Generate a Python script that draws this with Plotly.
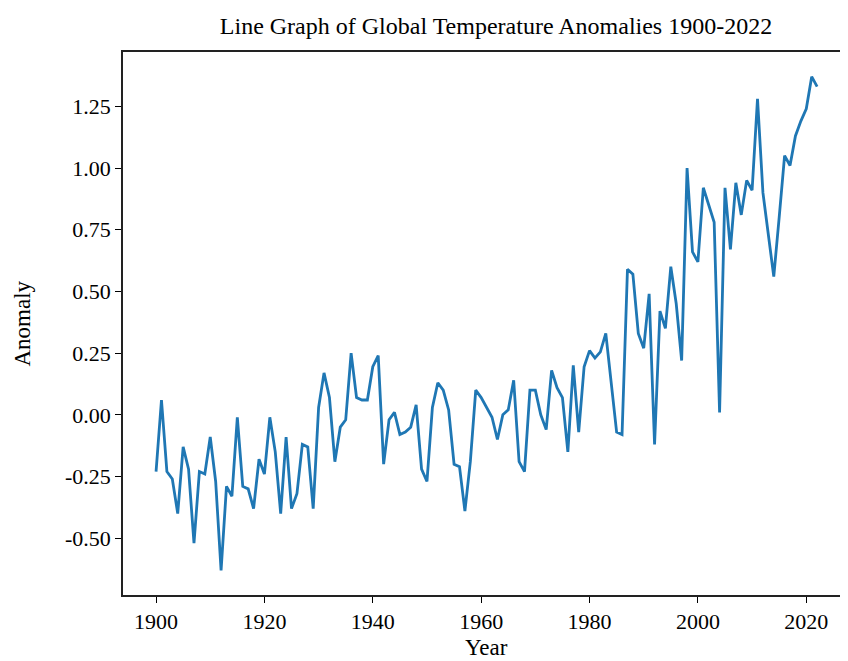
import plotly.graph_objects as go

years = list(range(1900, 2023))
anomaly = [
    -0.23, 0.06, -0.23, -0.26, -0.40, -0.13, -0.22, -0.52, -0.23, -0.24,  # 1900-1909
    -0.09, -0.27, -0.63, -0.29, -0.33, -0.01, -0.29, -0.30, -0.38, -0.18,  # 1910-1919
    -0.24, -0.01, -0.15, -0.40, -0.09, -0.38, -0.32, -0.12, -0.13, -0.38,  # 1920-1929
    0.03, 0.17, 0.07, -0.19, -0.05, -0.02, 0.25, 0.07, 0.06, 0.06,        # 1930-1939
    0.195, 0.24, -0.20, -0.02, 0.01, -0.08, -0.07, -0.05, 0.04, -0.22,    # 1940-1949
    -0.27, 0.03, 0.13, 0.10, 0.02, -0.20, -0.21, -0.39, -0.19, 0.10,      # 1950-1959
    0.07, 0.03, -0.01, -0.10, 0.00, 0.02, 0.14, -0.19, -0.23, 0.10,       # 1960-1969
    0.10, 0.00, -0.06, 0.18, 0.11, 0.07, -0.15, 0.20, -0.07, 0.195,       # 1970-1979
    0.26, 0.23, 0.255, 0.33, 0.13, -0.07, -0.08, 0.59, 0.57, 0.33,        # 1980-1989
    0.27, 0.49, -0.12, 0.42, 0.35, 0.60, 0.45, 0.22, 1.00, 0.66,          # 1990-1999
    0.62, 0.92, 0.85, 0.78, 0.01, 0.92, 0.67, 0.94, 0.81, 0.95,           # 2000-2009
    0.91, 1.28, 0.90, 0.73, 0.56, 0.80, 1.05, 1.01, 1.13, 1.19,           # 2010-2019
    1.24, 1.37, 1.33,                                                     # 2020-2022
]

x_ticks = [1900, 1920, 1940, 1960, 1980, 2000, 2020]
y_ticks = [-0.50, -0.25, 0.00, 0.25, 0.50, 0.75, 1.00, 1.25]
y_tick_labels = ["-0.50", "-0.25", "0.00", "0.25", "0.50", "0.75", "1.00", "1.25"]

FONT = "Liberation Serif, Times New Roman, serif"
OFF = 8                      # page body margin in the browser
W, H = 848 - OFF, 661 - OFF  # figure fills the rest of the window
L, R, T, B = 123 - OFF, 0, 52 - OFF, 661 - 595

fig = go.Figure()
fig.add_trace(go.Scatter(
    x=years, y=anomaly, mode="lines",
    line=dict(color="#1f77b4", width=2.8),
    showlegend=False,
))

fig.update_layout(
    width=W, height=H,
    margin=dict(l=L, r=R, t=T, b=B, autoexpand=False),
    paper_bgcolor="white", plot_bgcolor="white",
    font=dict(family=FONT, size=22, color="black"),
    title=dict(
        text="Line Graph of Global Temperature Anomalies 1900-2022",
        x=(496 - OFF) / W, xref="container", xanchor="center",
        y=1 - (26 - OFF) / H, yref="container", yanchor="middle",
        font=dict(family=FONT, size=24, color="black"),
    ),
    annotations=[
        dict(text="Year", x=(487 - 123) / (W - L - R), y=0,
             xref="paper", yref="paper", yshift=-(647 - 595),
             showarrow=False, xanchor="center", yanchor="middle",
             font=dict(family=FONT, size=23, color="black")),
        dict(text="Anomaly", x=0, y=0.5, xref="paper", yref="paper",
             xshift=22 - 123, showarrow=False, textangle=-90,
             xanchor="center", yanchor="middle",
             font=dict(family=FONT, size=23, color="black")),
    ],
)

fig.update_xaxes(
    range=[1893.9, 2027.7], automargin=False,
    tickmode="array", tickvals=x_ticks,
    ticks="outside", ticklen=6, tickwidth=1.3, tickcolor="black",
    showline=True, linecolor="#222", linewidth=1.5, mirror=True,
    showgrid=False, zeroline=False,
    tickfont=dict(family=FONT, size=22, color="black"),
)
fig.update_yaxes(
    range=[-0.73, 1.47], automargin=False,
    tickmode="array", tickvals=y_ticks, ticktext=y_tick_labels,
    ticks="outside", ticklen=6, tickwidth=1.3, tickcolor="black",
    showline=True, linecolor="#222", linewidth=1.5, mirror=False,
    showgrid=False, zeroline=False,
    tickfont=dict(family=FONT, size=22, color="black"),
)

fig.write_html("out.html")
